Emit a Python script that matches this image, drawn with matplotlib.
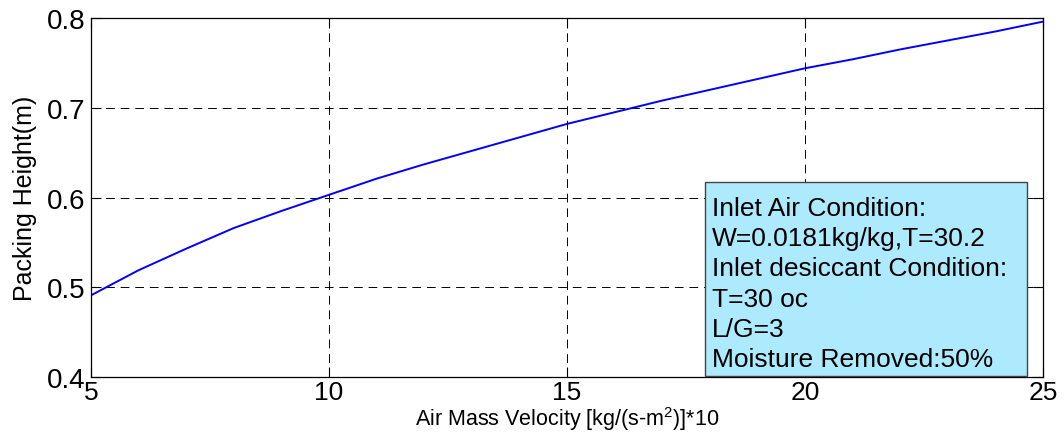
import matplotlib
matplotlib.use("Agg")
import matplotlib.pyplot as plt
from matplotlib.patches import Rectangle

plt.rcParams['font.family'] = ['Liberation Sans', 'DejaVu Sans']
plt.rcParams['mathtext.default'] = 'regular'

# dados
velocidade = [5, 6, 7, 8, 9, 10, 11, 12, 13, 14, 15, 16, 17, 18, 19, 20, 21, 22, 23, 24, 25]
altura = [0.491, 0.519, 0.543, 0.566, 0.585, 0.603, 0.621, 0.637, 0.652, 0.667, 0.682,
          0.695, 0.708, 0.720, 0.732, 0.744, 0.754, 0.765, 0.775, 0.785, 0.796]
xticks = [5, 10, 15, 20, 25]
yticks = [0.4, 0.5, 0.6, 0.7, 0.8]
info = ["Inlet Air Condition:",
        "W=0.0181kg/kg,T=30.2",
        "Inlet desiccant Condition:",
        "T=30 oc",
        "L/G=3",
        "Moisture Removed:50%"]

fig = plt.figure(figsize=(10.64, 4.35), dpi=100)
ax = fig.add_axes([0.0855, 0.131, 0.8948, 0.8253])

ax.plot(velocidade, altura, color='#0000ff', lw=1.4)

ax.set_xlim(5, 25)
ax.set_ylim(0.4, 0.8)
ax.set_xticks(xticks)
ax.set_yticks(yticks)
ax.set_xticklabels([str(v) for v in xticks])
ax.set_yticklabels([f"{v:.1f}" for v in yticks])
ax.tick_params(direction='in', length=7, width=0.8, labelsize=20, top=True, right=True)
ax.tick_params(axis='x', pad=2, labelsize=19)
ax.tick_params(axis='y', pad=4)
ax.grid(True, color='black', linestyle=(0, (9, 6)), lw=0.7)
for s in ax.spines.values():
    s.set_linewidth(0.9)

ax.set_xlabel(r"Air Mass Velocity [kg/(s-m$^2$)]*10", fontsize=15.5, labelpad=0)
ax.set_ylabel("Packing Height(m)", fontsize=18, labelpad=7)

# caixa com as condicoes
ax.add_patch(Rectangle((0.645, 0.003), 0.338, 0.54, transform=ax.transAxes,
                       facecolor='#aeeafd', edgecolor='#444444', lw=1, zorder=3))
ax.text(0.652, 0.505, "\n".join(info), transform=ax.transAxes, fontsize=19,
        va='top', ha='left', linespacing=1.33, zorder=4)

fig.savefig("out.png", dpi=100)
